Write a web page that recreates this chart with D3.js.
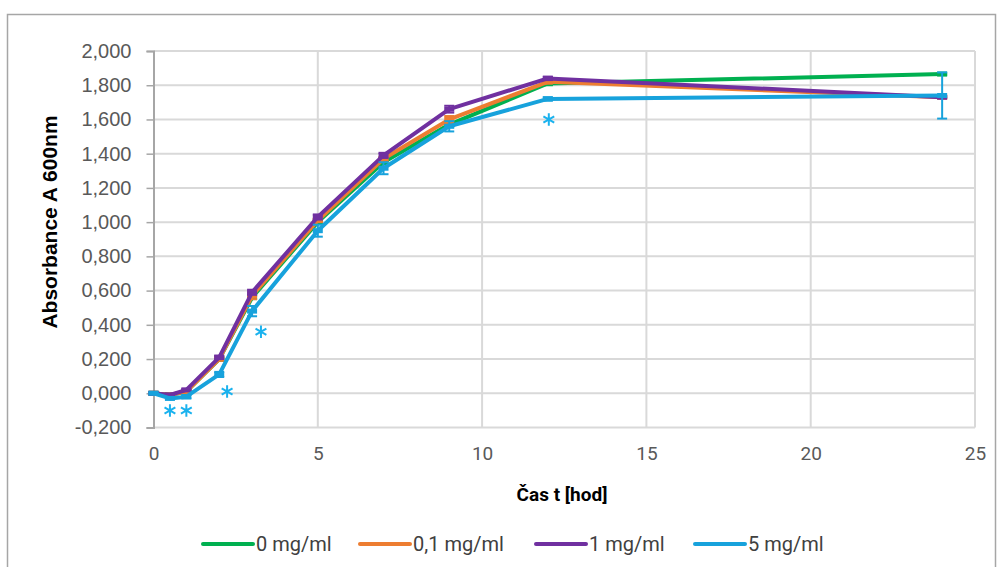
<!DOCTYPE html>
<html>
<head>
<meta charset="utf-8">
<script src="https://cdn.jsdelivr.net/npm/d3@7"></script>
<style>
  body { margin: 0; background: #fff; }
  svg { display: block; }
</style>
</head>
<body>
<div id="chart"></div>
<script>
// time points (hours)
let hours = [0, 0.5, 1, 2, 3, 5, 7, 9, 12, 24];
let seriesNames = ["0 mg/ml", "0,1 mg/ml", "1 mg/ml", "5 mg/ml"];
let seriesColors = ["#00b050", "#ed7d31", "#7030a0", "#17a2dc"];

let vals0 = [0.000, -0.010, 0.010, 0.200, 0.560, 1.000, 1.350, 1.570, 1.810, 1.865];
let vals01 = [0.000, -0.010, 0.010, 0.200, 0.570, 1.010, 1.370, 1.600, 1.820, 1.730];
let vals1 = [0.000, -0.010, 0.020, 0.210, 0.590, 1.030, 1.390, 1.660, 1.840, 1.730];
let vals5 = [0.000, -0.030, -0.020, 0.110, 0.480, 0.950, 1.315, 1.560, 1.720, 1.740];

// error bar sizes (+/-)
let err0 = [0.005, 0.005, 0.005, 0.01, 0.01, 0.01, 0.01, 0.01, 0.01, 0.005];
let err01 = [0.005, 0.005, 0.005, 0.01, 0.02, 0.01, 0.01, 0.02, 0.01, 0.005];
let err1 = [0.005, 0.005, 0.005, 0.01, 0.015, 0.015, 0.015, 0.02, 0.01, 0.005];
let err5 = [0.005, 0.005, 0.01, 0.015, 0.03, 0.035, 0.035, 0.03, 0.01, 0.135];

// significance stars (hour, absorbance)
let starX = [0.5, 1.0, 2.24, 3.27, 12.03];
let starY = [-0.10, -0.10, 0.01, 0.36, 1.60];

let yTicks = [-0.2, 0, 0.2, 0.4, 0.6, 0.8, 1.0, 1.2, 1.4, 1.6, 1.8, 2.0];
let xTicks = [0, 5, 10, 15, 20, 25];

let series = [vals0, vals01, vals1, vals5];
let errors = [err0, err01, err1, err5];

var W = 998, H = 567;
var svg = d3.select("#chart").append("svg")
    .attr("width", W)
    .attr("height", H);

// chart border
svg.append("rect")
    .attr("x", 7.5).attr("y", 14.5)
    .attr("width", 988).attr("height", 570)
    .style("fill", "white")
    .style("stroke", "#a6a6a6")
    .style("stroke-width", 1.5);

var x = d3.scaleLinear().domain([0, 25]).range([153.5, 975]);
var y = d3.scaleLinear().domain([-0.2, 2.0]).range([427.5, 51]);

// gridlines
svg.append("g")
    .selectAll("line.hg")
    .data(yTicks)
    .enter()
    .append("line")
    .attr("x1", x(0)).attr("x2", x(25))
    .attr("y1", d => y(d)).attr("y2", d => y(d))
    .style("stroke", "#d9d9d9")
    .style("stroke-width", 2);

svg.append("g")
    .selectAll("line.vg")
    .data(xTicks.slice(1))
    .enter()
    .append("line")
    .attr("x1", d => x(d)).attr("x2", d => x(d))
    .attr("y1", y(2.0)).attr("y2", y(-0.2))
    .style("stroke", "#d9d9d9")
    .style("stroke-width", 2);

// y axis
var yAxis = svg.append("g")
    .attr("transform", "translate(" + x(0) + ",0)")
    .call(d3.axisLeft(y).tickValues(yTicks).tickSize(7).tickPadding(15)
        .tickFormat(d => d.toFixed(3).replace(".", ",")));
yAxis.select(".domain").style("stroke", "#a6a6a6").style("stroke-width", 2);
yAxis.selectAll(".tick line").style("stroke", "#a6a6a6").style("stroke-width", 1.5);
yAxis.selectAll("text")
    .style("font-family", "'Liberation Sans', Arial, sans-serif")
    .style("font-size", "20px")
    .style("fill", "#595959");

// x axis labels
var xAxis = svg.append("g")
    .attr("transform", "translate(0," + y(-0.2) + ")")
    .call(d3.axisBottom(x).tickValues(xTicks).tickSize(0).tickPadding(19));
xAxis.select(".domain").remove();
xAxis.selectAll("text")
    .style("font-family", "'Liberation Sans Narrow', 'Roboto', sans-serif")
    .style("font-size", "19px")
    .style("fill", "#595959");

// axis titles
svg.append("text")
    .attr("x", 562).attr("y", 501)
    .attr("text-anchor", "middle")
    .style("font-family", "'Liberation Sans Narrow', 'Roboto', sans-serif")
    .style("font-weight", "bold")
    .style("font-size", "19px")
    .style("fill", "#000")
    .text("Čas t [hod]");

svg.append("text")
    .attr("transform", "translate(57,222) rotate(-90)")
    .attr("text-anchor", "middle")
    .style("font-family", "'Liberation Sans', Arial, sans-serif")
    .style("font-weight", "bold")
    .style("font-size", "21px")
    .style("fill", "#000")
    .text("Absorbance A 600nm");

var line = d3.line()
    .x((d, i) => x(hours[i]))
    .y(d => y(d));

series.forEach((s, k) => {
    var g = svg.append("g").attr("class", "series");
    // error bars
    s.forEach((v, i) => {
        var e = errors[k][i];
        g.append("line")
            .attr("x1", x(hours[i])).attr("x2", x(hours[i]))
            .attr("y1", y(v - e)).attr("y2", y(v + e))
            .style("stroke", seriesColors[k]).style("stroke-width", 2);
        [v - e, v + e].forEach(c => {
            g.append("line")
                .attr("x1", x(hours[i]) - 5).attr("x2", x(hours[i]) + 5)
                .attr("y1", y(c)).attr("y2", y(c))
                .style("stroke", seriesColors[k]).style("stroke-width", 2);
        });
    });
    g.append("path")
        .datum(s)
        .attr("d", line)
        .style("fill", "none")
        .style("stroke", seriesColors[k])
        .style("stroke-width", 4)
        .style("stroke-linejoin", "round");
    // dash markers
    g.selectAll("rect.mk")
        .data(s)
        .enter()
        .append("rect")
        .attr("x", (d, i) => x(hours[i]) - 5)
        .attr("y", d => y(d) - 2.5)
        .attr("width", 10).attr("height", 5)
        .style("fill", seriesColors[k]);
});

// stars
var star = d3.symbol().type(d3.symbolAsterisk).size(110);
svg.append("g")
    .selectAll("path.star")
    .data(starX)
    .enter()
    .append("path")
    .attr("d", star)
    .attr("transform", (d, i) => "translate(" + x(d) + "," + y(starY[i]) + ")")
    .style("fill", "none")
    .style("stroke", "#1ab2ee")
    .style("stroke-width", 2);

// legend
var legendX = [203, 360, 536, 695];
var lg = svg.append("g");
seriesNames.forEach((n, k) => {
    lg.append("line")
        .attr("x1", legendX[k]).attr("x2", legendX[k] + 50)
        .attr("y1", 544).attr("y2", 544)
        .style("stroke", seriesColors[k])
        .style("stroke-width", 4)
        .style("stroke-linecap", "round");
    lg.append("text")
        .attr("x", legendX[k] + 53).attr("y", 551)
        .style("font-family", "'Liberation Sans Narrow', 'Roboto', sans-serif")
        .style("font-size", "20px")
        .style("fill", "#404040")
        .text(n);
});
</script>
</body>
</html>
